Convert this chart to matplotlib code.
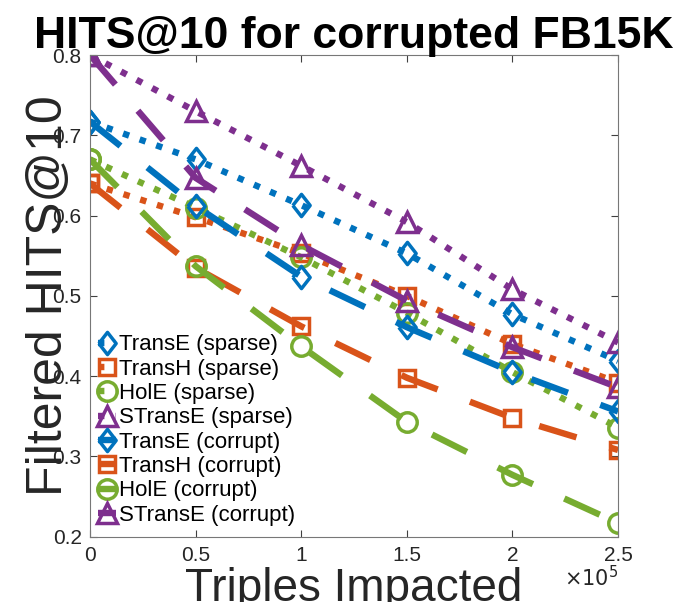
import matplotlib
matplotlib.use('Agg')
import matplotlib.pyplot as plt
from matplotlib.ticker import FuncFormatter

plt.rcParams['font.family'] = ['Liberation Sans', 'DejaVu Sans']

# triples impacted
triples = [0, 50000, 100000, 150000, 200000, 250000]

transe_sparse = [0.717, 0.670, 0.613, 0.553, 0.477, 0.419]
transh_sparse = [0.640, 0.598, 0.553, 0.500, 0.440, 0.392]
hole_sparse = [0.670, 0.610, 0.548, 0.479, 0.405, 0.336]
stranse_sparse = [0.800, 0.730, 0.662, 0.592, 0.508, 0.442]

transe_corrupt = [0.717, 0.612, 0.524, 0.461, 0.405, 0.356]
transh_corrupt = [0.640, 0.535, 0.462, 0.398, 0.348, 0.308]
hole_corrupt = [0.670, 0.537, 0.437, 0.343, 0.277, 0.217]
stranse_corrupt = [0.800, 0.647, 0.563, 0.494, 0.436, 0.386]

models = ['TransE', 'TransH', 'HolE', 'STransE']
colors = ['#0072BD', '#D95319', '#77AC30', '#7E2F8E']
# matlab style diamond is taller than wide
diamond = [(-0.39, 0), (0, 0.5), (0.39, 0), (0, -0.5), (-0.39, 0)]
markers = [diamond, 's', 'o', '^']
msizes = [16, 11, 14, 14]

sparse = [transe_sparse, transh_sparse, hole_sparse, stranse_sparse]
corrupt = [transe_corrupt, transh_corrupt, hole_corrupt, stranse_corrupt]

lw = 4.6
dotted = (0, (1.0, 1.75))
dashed = (0, (6.1, 5.4))

fig = plt.figure(figsize=(6.96, 6.02), dpi=100)
ax = fig.add_axes([0.1293, 0.1085, 0.7587, 0.8001])

for name, vals, c, m, ms in zip(models, sparse, colors, markers, msizes):
    ax.plot(triples, vals, linestyle=dotted, color=c, lw=lw,
            dash_capstyle='butt', marker=m, ms=ms, mfc='none', mec=c,
            mew=2.5, label='%s (sparse)' % name)

for name, vals, c, m, ms in zip(models, corrupt, colors, markers, msizes):
    ax.plot(triples, vals, linestyle=dashed, color=c, lw=lw,
            dash_capstyle='butt', marker=m, ms=ms, mfc='none', mec=c,
            mew=2.5, label='%s (corrupt)' % name)

ax.set_xlim(0, 250000)
ax.set_ylim(0.2, 0.8)
ax.set_xticks(triples)
ax.xaxis.set_major_formatter(FuncFormatter(lambda v, p: '%g' % (v / 1e5)))
ax.set_yticks([0.2, 0.3, 0.4, 0.5, 0.6, 0.7, 0.8])
ax.yaxis.set_major_formatter(FuncFormatter(lambda v, p: '%g' % v))
ax.tick_params(direction='in', top=True, right=True, length=5,
               width=0.8, color='#404040', labelsize=15, labelcolor='#262626')
ax.tick_params(axis='x', pad=7)
ax.tick_params(axis='y', pad=6)
for s in ax.spines.values():
    s.set_color('#777777')
    s.set_linewidth(0.8)

ax.set_title('HITS@10 for corrupted FB15K', fontsize=32, fontweight='bold',
             pad=5)
ax.set_xlabel('Triples Impacted', fontsize=33, color='#262626', labelpad=1)
ax.set_ylabel('Filtered HITS@10', fontsize=36, color='#262626', labelpad=-14)
ax.text(1.0, -0.085, r'$\times10^5$', transform=ax.transAxes, fontsize=15,
        color='#262626', ha='right', va='center')

ax.legend(loc='lower left', bbox_to_anchor=(-0.01, -0.005), frameon=False,
          fontsize=16, handlelength=0.8, handletextpad=0.15,
          labelspacing=0.15, borderaxespad=0.2)

fig.savefig('out.png', dpi=100)
